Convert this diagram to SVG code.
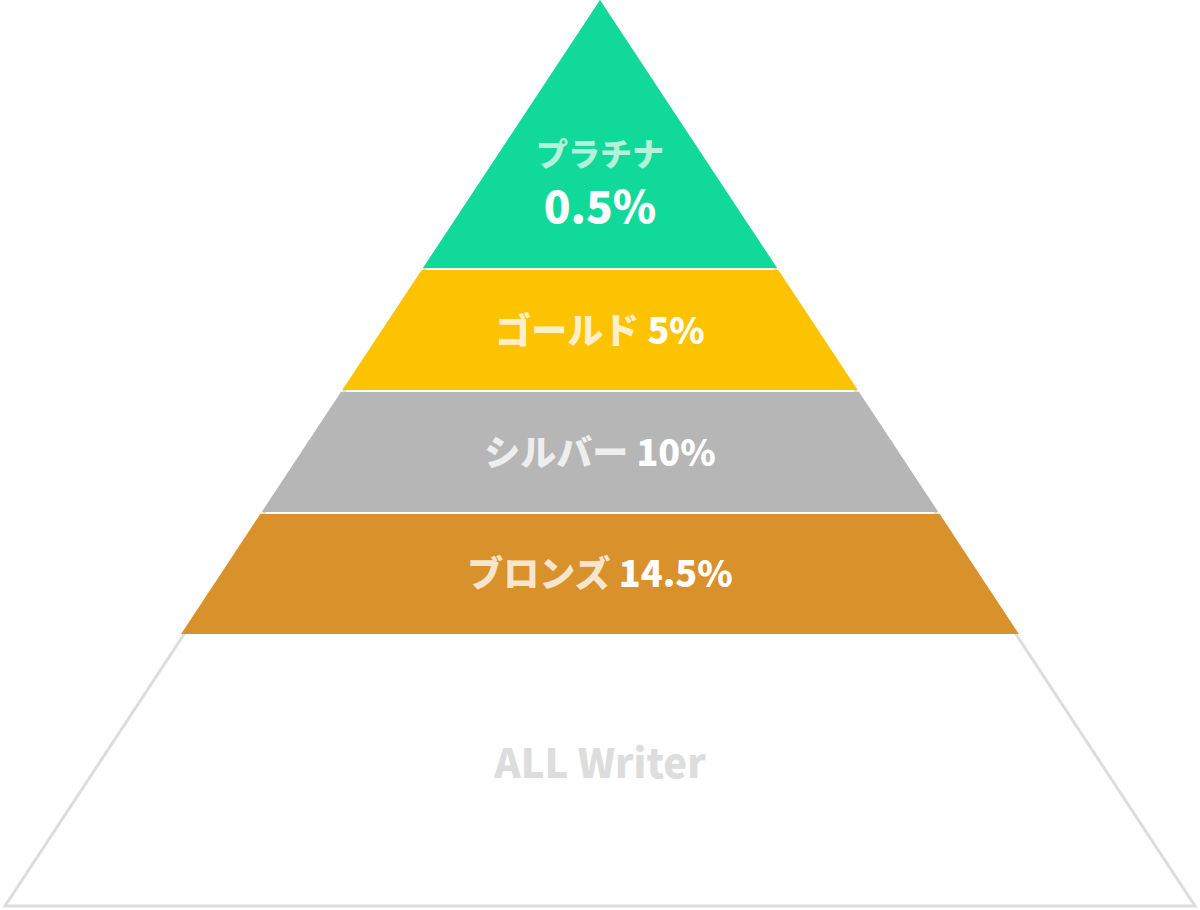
<svg xmlns="http://www.w3.org/2000/svg" width="1200" height="910" viewBox="0 0 1200 910">
<style>
text{font-family:"Noto Sans CJK JP","Noto Sans",sans-serif;font-weight:900;text-anchor:middle}
.w{fill:#ffffff}
</style>
<rect width="1200" height="910" fill="#ffffff"/>
<g id="all-writer">
<polygon points="600,3 5,906 1195,906" fill="#ffffff" stroke="#dddddd" stroke-width="3" stroke-linejoin="miter"/>
<text x="600" y="778" font-size="40" fill="#dddddd">ALL Writer</text>
</g>
<g id="bronze">
<polygon points="260.3,514 939.7,514 1018.9,634 181.1,634" fill="#d9912b"/>
<text x="600" y="587" font-size="36"><tspan fill="#f7e5cd">ブロンズ</tspan><tspan class="w"> 14.5%</tspan></text>
</g>
<g id="silver">
<polygon points="340.9,392 859.1,392 938.3,512 261.7,512" fill="#b6b6b6"/>
<text x="600" y="466" font-size="36"><tspan fill="#eeeeee">シルバー</tspan><tspan class="w"> 10%</tspan></text>
</g>
<g id="gold">
<polygon points="421.6,270 778.4,270 857.7,390 342.3,390" fill="#fdc300"/>
<text x="600" y="344" font-size="36"><tspan fill="#fdefc9">ゴールド</tspan><tspan class="w"> 5%</tspan></text>
</g>
<g id="platinum">
<polygon points="600,0 777.1,268 422.9,268" fill="#10d99a"/>
<text x="600" y="166" font-size="32" fill="#b5f2dc">プラチナ</text>
<text x="600" y="223" font-size="44" class="w">0.5%</text>
</g>
<g id="connectors"/>
</svg>
